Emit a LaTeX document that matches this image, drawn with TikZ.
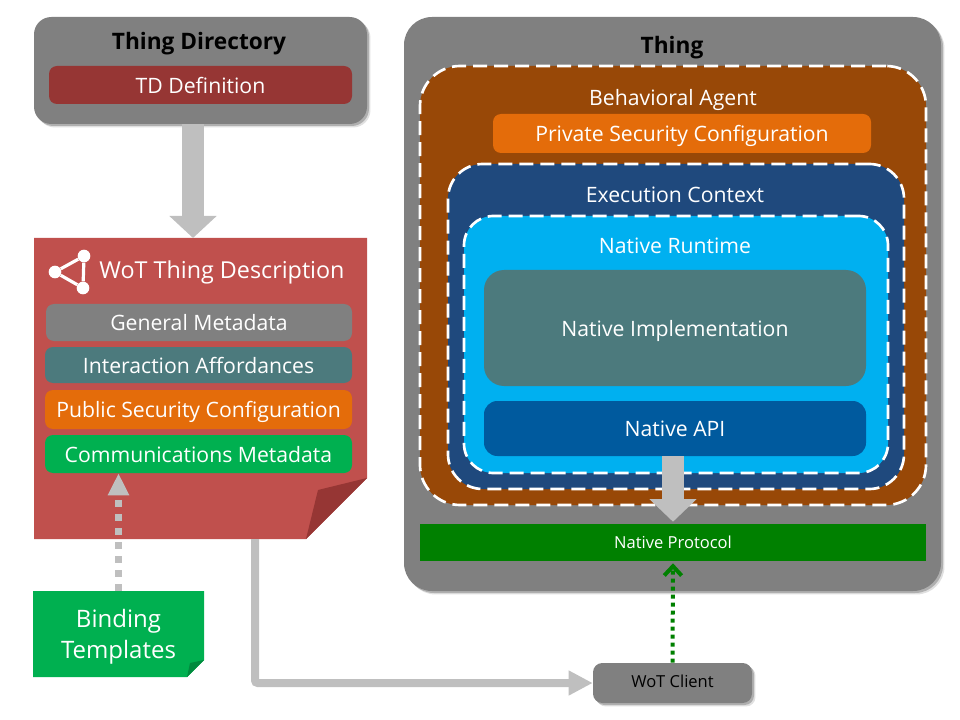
\documentclass[tikz,border=0pt]{standalone}
\usepackage{fontspec}
\setmainfont{Open Sans}
\usetikzlibrary{arrows.meta,shadows}

\definecolor{boxgray}{HTML}{808080}
\definecolor{linkgray}{HTML}{BFBFBF}
\definecolor{tdred}{HTML}{963634}
\definecolor{docred}{HTML}{C0504D}
\definecolor{tealbox}{HTML}{4C7A7D}
\definecolor{orangebox}{HTML}{E46C0A}
\definecolor{greenbox}{HTML}{00B050}
\definecolor{foldgreen}{HTML}{008A3E}
\definecolor{agentbrown}{HTML}{984807}
\definecolor{ctxblue}{HTML}{1F497D}
\definecolor{rtblue}{HTML}{00B0F0}
\definecolor{apiblue}{HTML}{005A9E}
\definecolor{protogreen}{HTML}{008000}

\tikzset{
  sized/.style 2 args={minimum width=#1*0.75pt,minimum height=#2*0.75pt,inner sep=0pt},
  label/.style={text=white,text height=14pt,text depth=1.5pt,font=\fontsize{15.9}{18}\selectfont},
  small/.style={text height=10.5pt,text depth=1.5pt,font=\fontsize{12.4}{14}\selectfont},
  title/.style={text=black,text height=14.5pt,text depth=2pt,font=\fontsize{17}{20}\selectfont\bfseries},
  shade/.style={drop shadow={shadow xshift=2.6pt,shadow yshift=-2.6pt,opacity=0.12,fill=black},
    drop shadow={shadow xshift=1.5pt,shadow yshift=-1.5pt,opacity=0.22,fill=black}},
  zone/.style={draw=white,line width=2pt,dash pattern=on 10.5pt off 5.25pt},
  dot/.style={circle,fill=white,minimum size=9.5pt,inner sep=0pt},
}

\begin{document}
\begin{tikzpicture}[x=0.75pt,y=-0.75pt]
  \useasboundingbox (0,0) rectangle (960,720);

  \node (dir) [sized={333}{107},fill=boxgray,rounded corners=13pt,shade] at (200.5,70.5) {};
  \node (dirtitle) [title] at (199,41) {Thing Directory};
  \node (tddef) [sized={303}{38},fill=tdred,rounded corners=6pt,label] at (200.5,85) {TD Definition};

  \fill[docred] (34,238) -- (367,238) -- (367,478) -- (306,539) -- (34,539) -- cycle;
  \fill[tdred] (367,478) -- (318,490) -- (306,539) -- cycle;
  \node (doc) [sized={333}{301}] at (200.5,388.5) {};
  \node (doctitle) [label,font=\fontsize{17.5}{20}\selectfont] at (222,270) {WoT Thing Description};

  \node (ic1) [dot] at (55,272) {};
  \node (ic2) [dot] at (84,256) {};
  \node (ic3) [dot] at (83,288) {};
  \draw[white,line width=2.4pt] (ic1) -- (ic2) -- (ic3) -- (ic1);

  \node (general) [sized={306}{37},fill=boxgray,rounded corners=6pt,label] at (199,322.5) {General Metadata};
  \node (afford) [sized={307}{36},fill=tealbox,rounded corners=6pt,label] at (198.5,365) {Interaction Affordances};
  \node (public) [sized={307}{39},fill=orangebox,rounded corners=6pt,label] at (198.5,409.5) {Public Security Configuration};
  \node (comm) [sized={307}{38},fill=greenbox,rounded corners=6pt,label] at (198.5,454) {Communications Metadata};

  \fill[greenbox] (33,591) -- (204,591) -- (204,660) -- (187,677) -- (33,677) -- cycle;
  \fill[foldgreen] (204,660) -- (190,663) -- (187,677) -- cycle;
  \node (bind) [sized={171}{86}] at (118.5,634) {};
  \node (bindtext) [text=white,align=center,font=\fontsize{18}{23.5}\selectfont] at (118.5,637) {Binding\\Templates};

  \node (thing) [sized={537}{574},fill=boxgray,rounded corners=21pt,shade] at (672.5,304) {};
  \node (thingtitle) [title] at (672,45) {Thing};
  \node (agent) [sized={506}{439},fill=agentbrown,rounded corners=30pt,zone] at (673,285.5) {};
  \node (agenttitle) [label] at (673,97) {Behavioral Agent};
  \node (private) [sized={378}{39},fill=orangebox,rounded corners=6pt,label] at (682,133.5) {Private Security Configuration};
  \node (ctx) [sized={456}{325},fill=ctxblue,rounded corners=26pt,zone] at (676,326.5) {};
  \node (ctxtitle) [label] at (675,194) {Execution Context};
  \node (runtime) [sized={424}{257},fill=rtblue,rounded corners=22pt,zone] at (676,344.5) {};
  \node (rttitle) [label] at (675,245) {Native Runtime};
  \node (impl) [sized={382}{116},fill=tealbox,rounded corners=15pt,label] at (675,328) {Native Implementation};
  \node (api) [sized={382}{55},fill=apiblue,rounded corners=10pt,label] at (675,428.5) {Native API};
  \node (proto) [sized={506}{37},fill=protogreen,text=white,small] at (673,542.5) {Native Protocol};
  \node (client) [sized={159}{40},fill=boxgray,rounded corners=7pt,shade,text=black,small,text depth=4.5pt] at (672.5,683) {WoT Client};

  \coordinate (dirout) at (193,124);
  \coordinate (docin) at (193,238);
  \coordinate (docout) at (255,539);
  \draw[-{Triangle[length=16.5pt,width=34.5pt]},linkgray,line width=16.5pt] (dirout) -- (docin);
  \draw[-{Triangle[length=16.5pt,width=15pt]},linkgray,line width=5.25pt,dash pattern=on 5.25pt off 5.25pt] (bind.north) -- (bind.north |- comm.south);
  \draw[-{Triangle[length=18pt,width=17.5pt]},linkgray,line width=6pt,rounded corners=2pt] (docout) |- (client.west);
  \draw[-{Triangle[length=17pt,width=34.5pt]},linkgray,line width=16.5pt,shorten >=1.5pt] (proto.north |- api.south) -- (proto.north);
  \draw[-{Straight Barb[length=7pt,width=13pt]},protogreen,line width=3pt,dash pattern=on 3pt off 3pt,shorten >=1.5pt] (client.north) -- (proto.south);
\end{tikzpicture}
\end{document}
